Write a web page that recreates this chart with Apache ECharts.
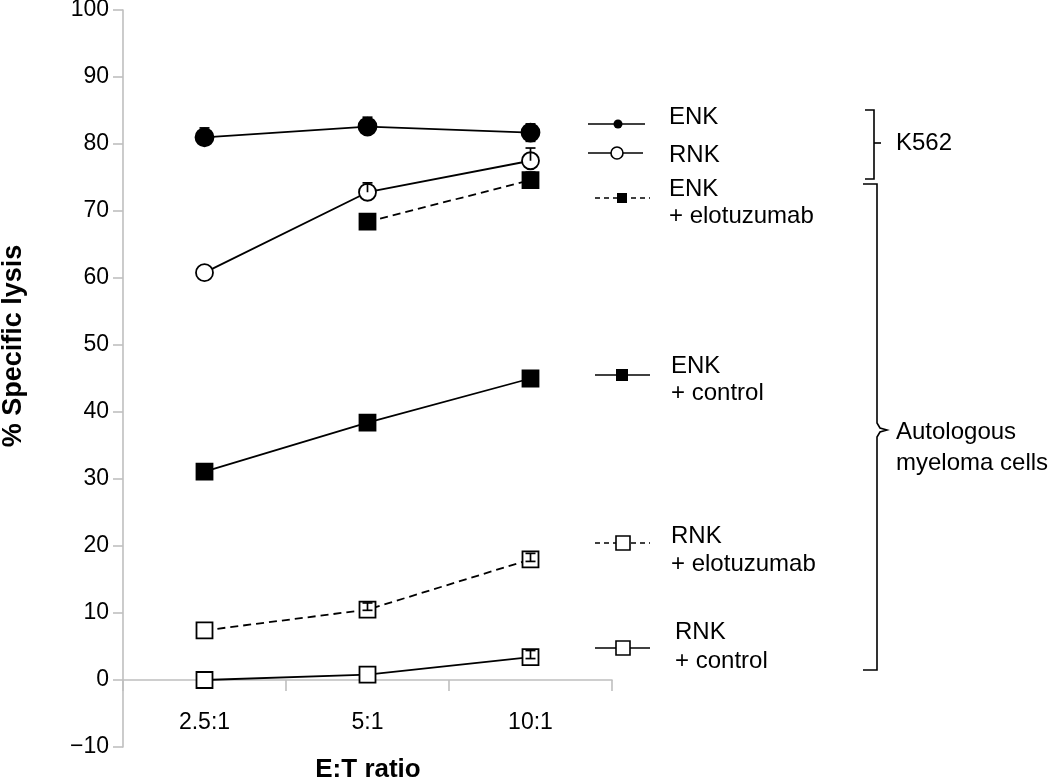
<!DOCTYPE html>
<html>
<head>
<meta charset="utf-8">
<script src="https://cdn.jsdelivr.net/npm/echarts@6/dist/echarts.min.js"></script>
<style>html,body{margin:0;padding:0;background:#fff}#c{width:1050px;height:781px}</style>
</head>
<body>
<div id="c"></div>
<script>
// ---- data ----
const categories = ['2.5:1', '5:1', '10:1'];
const yTicks = { min: -10, max: 100, interval: 10 };

const enkK562 = [81.0, 82.6, 81.7];
const enkK562ErrPlus = [1.4, 1.4, 1.3];
const enkK562ErrMinus = [0, 0, 1.3];
const rnkK562 = [60.8, 72.8, 77.5];
const rnkK562ErrPlus = [0, 1.4, 1.9];
const rnkK562ErrMinus = [0, 0, 0];
const enkElo = [null, 68.4, 74.6];
const enkEloErrPlus = [0, 0, 1.2];
const enkEloErrMinus = [0, 0, 0];
const enkCtrl = [31.1, 38.4, 45.0];
const enkCtrlErrPlus = [0, 0, 0];
const enkCtrlErrMinus = [0, 0, 0];
const rnkElo = [7.4, 10.5, 18.0];
const rnkEloErrPlus = [0, 1.0, 0.9];
const rnkEloErrMinus = [0, 0.1, 0.3];
const rnkCtrl = [0.0, 0.8, 3.4];
const rnkCtrlErrPlus = [0, 0, 1.0];
const rnkCtrlErrMinus = [0, 0, 0.2];

const FONT = 'Liberation Sans, Arial, sans-serif';
const chart = echarts.init(document.getElementById('c'));

function errData(vals, plus, minus) {
  const out = [];
  vals.forEach((v, i) => { if (v != null && (plus[i] > 0 || minus[i] > 0)) out.push([i, v, plus[i], minus[i]]); });
  return out;
}
function errSeries(vals, plus, minus) {
  return {
    type: 'custom', z: 10, silent: true,
    data: errData(vals, plus, minus),
    encode: { x: 0, y: 1 },
    renderItem: function (params, api) {
      const i = api.value(0), v = api.value(1), ep = api.value(2), em = api.value(3);
      const top = api.coord([i, v + ep]);
      const bot = api.coord([i, v - em]);
      const w = 5;
      const st = { stroke: '#000', lineWidth: 1.7 };
      const ch = [{ type: 'line', shape: { x1: top[0], y1: top[1], x2: bot[0], y2: bot[1] }, style: st }];
      if (ep > 0) ch.push({ type: 'line', shape: { x1: top[0] - w, y1: top[1], x2: top[0] + w, y2: top[1] }, style: st });
      if (em > 0) ch.push({ type: 'line', shape: { x1: bot[0] - w, y1: bot[1], x2: bot[0] + w, y2: bot[1] }, style: st });
      return { type: 'group', children: ch };
    }
  };
}
function lineSeries(name, vals, symbol, size, filled, dashed) {
  return {
    name: name, type: 'line', data: vals, z: 3,
    symbol: symbol, symbolSize: size, showSymbol: true, connectNulls: false,
    lineStyle: { color: '#000', width: 1.8, type: dashed ? [8, 5] : 'solid' },
    itemStyle: { color: filled ? '#000' : '#fff', borderColor: '#000', borderWidth: 1.8 },
    emphasis: { disabled: true }
  };
}

// legend / annotation graphics
const g = [];
const ln = { stroke: '#000', lineWidth: 1.6 };
function lineG(x1, y1, x2, y2, dash) {
  g.push({ type: 'line', shape: { x1, y1, x2, y2 }, style: Object.assign({}, ln, dash ? { lineDash: [5, 4] } : {}) });
}
function textG(t, x, y, opts) {
  g.push({ type: 'text', x, y, style: Object.assign({ text: t, font: '24px ' + FONT, fill: '#000', textVerticalAlign: 'middle', textAlign: 'left' }, opts || {}) });
}
// ENK
lineG(588, 124, 645, 124); g.push({ type: 'circle', shape: { cx: 618, cy: 124, r: 4.5 }, style: { fill: '#000' } });
textG('ENK', 669, 117);
// RNK
lineG(588, 153, 643, 153); g.push({ type: 'circle', shape: { cx: 617, cy: 153, r: 6 }, style: { fill: '#fff', stroke: '#000', lineWidth: 1.6 } });
textG('RNK', 669, 155);
// ENK + elotuzumab
lineG(595, 198, 650, 198, true); g.push({ type: 'rect', shape: { x: 617, y: 193, width: 10, height: 10 }, style: { fill: '#000' } });
textG('ENK', 669, 189); textG('+ elotuzumab', 669, 216);
// ENK + control
lineG(595, 375, 650, 375); g.push({ type: 'rect', shape: { x: 616, y: 369, width: 12, height: 12 }, style: { fill: '#000' } });
textG('ENK', 671, 366); textG('+ control', 671, 393);
// RNK + elotuzumab
lineG(595, 543, 650, 543, true); g.push({ type: 'rect', shape: { x: 616, y: 536, width: 14, height: 14 }, style: { fill: '#fff', stroke: '#000', lineWidth: 1.6 } });
textG('RNK', 671, 536); textG('+ elotuzumab', 671, 564);
// RNK + control
lineG(595, 648, 650, 648); g.push({ type: 'rect', shape: { x: 616, y: 641, width: 14, height: 14 }, style: { fill: '#fff', stroke: '#000', lineWidth: 1.6 } });
textG('RNK', 675, 632); textG('+ control', 675, 661);
// brackets
g.push({ type: 'polyline', shape: { points: [[865, 110], [874, 110], [874, 179], [865, 179]] }, style: { stroke: '#000', lineWidth: 1.6, fill: null } });
lineG(874, 143, 881, 143);
textG('K562', 896, 143);
g.push({ type: 'polyline', shape: { points: [[863, 184], [877, 184], [877, 423], [880, 428], [887, 430], [880, 432], [877, 437], [877, 670], [863, 670]] }, style: { stroke: '#000', lineWidth: 1.6, fill: null } });
textG('Autologous', 896, 432); textG('myeloma cells', 896, 463);
// axis titles
g.push({ type: 'text', x: 368, y: 770, style: { text: 'E:T ratio', font: 'bold 26px ' + FONT, fill: '#000', textAlign: 'center', textVerticalAlign: 'middle' } });
g.push({ type: 'text', x: 14, y: 346, rotation: Math.PI / 2, style: { text: '% Specific lysis', font: 'bold 27px ' + FONT, fill: '#000', textAlign: 'center', textVerticalAlign: 'middle' } });

const axisGray = '#bfbfbf';
const option = {
  backgroundColor: '#fff',
  animation: false,
  grid: { left: 123, right: 438, top: 10, bottom: 34, containLabel: false, outerBoundsMode: 'none' },
  xAxis: {
    type: 'category', data: categories, boundaryGap: true,
    axisLine: { show: true, onZero: true, lineStyle: { color: axisGray, width: 1.6 } },
    axisTick: { show: true, length: 11, alignWithLabel: false, lineStyle: { color: axisGray, width: 1.6 } },
    axisLabel: { fontSize: 23, fontFamily: FONT, color: '#000', margin: -36 },
    splitLine: { show: false }
  },
  yAxis: {
    type: 'value', min: yTicks.min, max: yTicks.max, interval: yTicks.interval,
    axisLine: { show: true, onZero: false, lineStyle: { color: axisGray, width: 1.6 } },
    axisTick: { show: true, length: 10, lineStyle: { color: axisGray, width: 1.6 } },
    axisLabel: { fontSize: 23, fontFamily: FONT, color: '#000', margin: 14,
      formatter: v => (v < 0 ? '\u2212' + Math.abs(v) : String(v)) },
    splitLine: { show: false }
  },
  series: [
    lineSeries('ENK', enkK562, 'circle', 18, true, false),
    lineSeries('RNK', rnkK562, 'circle', 17, false, false),
    lineSeries('ENK + elotuzumab', enkElo, 'rect', 16, true, true),
    lineSeries('ENK + control', enkCtrl, 'rect', 16, true, false),
    lineSeries('RNK + elotuzumab', rnkElo, 'rect', 16, false, true),
    lineSeries('RNK + control', rnkCtrl, 'rect', 16, false, false),
    errSeries(enkK562, enkK562ErrPlus, enkK562ErrMinus),
    errSeries(rnkK562, rnkK562ErrPlus, rnkK562ErrMinus),
    errSeries(enkElo, enkEloErrPlus, enkEloErrMinus),
    errSeries(enkCtrl, enkCtrlErrPlus, enkCtrlErrMinus),
    errSeries(rnkElo, rnkEloErrPlus, rnkEloErrMinus),
    errSeries(rnkCtrl, rnkCtrlErrPlus, rnkCtrlErrMinus)
  ],
  graphic: g
};
chart.setOption(option);
</script>
</body>
</html>
